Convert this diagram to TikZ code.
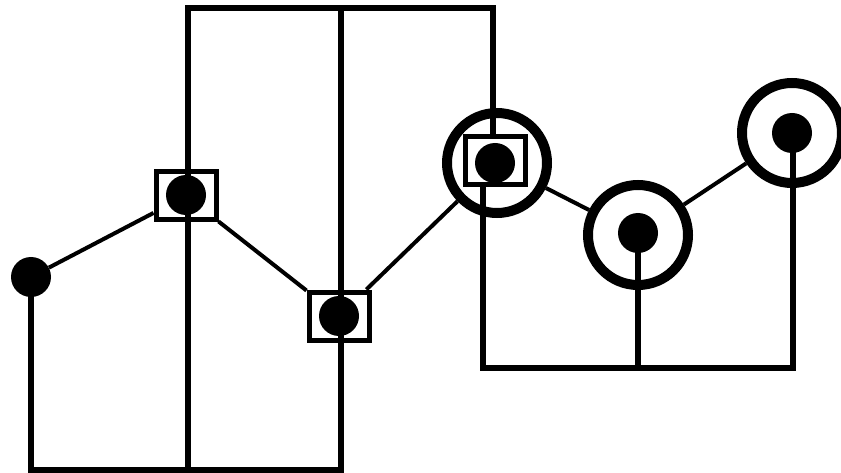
\documentclass[tikz,border=0pt]{standalone}

\begin{document}
\begin{tikzpicture}[x=1pt,y=-1pt,
  dot/.style={circle,fill=black,minimum size=40pt,inner sep=0pt},
  frame/.style={draw,line width=5pt,minimum width=60pt,minimum height=48pt,inner sep=0pt},
  ring/.style={circle,draw,line width=10pt,minimum size=100pt,inner sep=0pt},
  link/.style={line width=4pt},
  tree/.style={line width=6pt,line cap=rect}]
  \useasboundingbox (0,0) rectangle (841,473);
  % points
  \node[dot] (p1) at (31,277) {};
  \node[dot] (p2) at (186,195) {};
  \node[dot] (p3) at (339,316) {};
  \node[dot] (p4) at (495,163) {};
  \node[dot] (p5) at (638,233) {};
  \node[dot] (p6) at (792,133) {};
  \node[frame] (f2) at (186,196) {};
  \node[frame] (f3) at (339,316) {};
  \node[frame] (f4) at (495,161) {};
  \node[ring] (r4) at (497,163) {};
  \node[ring] (r5) at (638,235) {};
  \node[ring] (r6) at (792,133) {};
  % links
  \draw[link] (p1) -- (f2);
  \draw[link] (f2) -- (f3);
  \draw[link] (f3) -- (r4);
  \draw[link] (r4) -- (r5);
  \draw[link] (r5) -- (r6);
  % left tree
  \coordinate (lb) at (31,470);
  \coordinate (mb) at (188,470);
  \coordinate (rb) at (341,470);
  \coordinate (lt) at (188,8);
  \coordinate (rt) at (493,8);
  \draw[tree] (p1.center) -- (lb) -- (rb) -- (rb |- lt);
  \draw[tree] (mb) -- (lt) -- (rt) -- (rt |- f4.north);
  % right tree
  \coordinate (ql) at (483,186);
  \coordinate (qb) at (483,368);
  \coordinate (qr) at (793,368);
  \draw[tree] (ql) -- (qb) -- (qr) -- (qr |- p6.center);
  \draw[tree] (p5.center) -- (p5.center |- qb);
\end{tikzpicture}
\end{document}
